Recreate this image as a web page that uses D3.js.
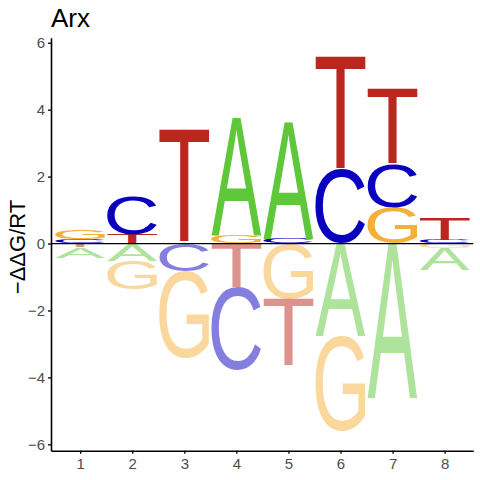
<!DOCTYPE html>
<html>
<head>
<meta charset="utf-8">
<script src="https://cdn.jsdelivr.net/npm/d3@7"></script>
<style>
body { margin: 0; background: #fff; }
</style>
</head>
<body>
<svg width="480" height="480"></svg>
<script>
// positions along the motif
var positions = [1, 2, 3, 4, 5, 6, 7, 8];
var letters = ["A", "C", "G", "T"];

// -ddG/RT contribution of each base at each position
var valA = [-0.31, -0.51, 0.03, 3.52, 3.50, -2.77, -4.62, -0.64];
var valC = [0.13, 1.13, -0.84, -2.46, 0.14, 2.22, 1.31, 0.10];
var valG = [0.27, -0.87, -2.58, 0.25, -1.66, -2.83, 1.06, -0.14];
var valT = [-0.11, 0.26, 3.38, -1.33, -2.01, 3.36, 2.24, 0.66];

var yTicks = [-6, -4, -2, 0, 2, 4, 6];

var colors = { A: "#5ec83a", C: "#0a00bf", G: "#f5b03a", T: "#b9271e" };
var fontFam = "'Liberation Sans', Arial, sans-serif";

var svg = d3.select("svg");

var x = d3.scaleLinear().domain([0.44, 8.55]).range([51, 473.3]);
var y = d3.scaleLinear().domain([-6.19, 6.15]).range([450.7, 37.7]);

// tight glyph bounds, measured once on a canvas
var ctx = document.createElement("canvas").getContext("2d");
ctx.font = "100px " + fontFam;
var glyph = {};
letters.forEach(function(l) {
  var m = ctx.measureText(l);
  glyph[l] = {
    left: m.actualBoundingBoxLeft,
    right: m.actualBoundingBoxRight,
    asc: m.actualBoundingBoxAscent,
    desc: m.actualBoundingBoxDescent
  };
});

// build the stacked boxes: smallest magnitude nearest the zero line
var vals = { A: valA, C: valC, G: valG, T: valT };
var boxes = [];
positions.forEach(function(p, i) {
  var items = letters.map(function(l) { return { letter: l, v: vals[l][i] }; });
  var pos = items.filter(function(d) { return d.v > 0; })
    .sort(function(a, b) { return a.v - b.v; });
  var neg = items.filter(function(d) { return d.v < 0; })
    .sort(function(a, b) { return b.v - a.v; });
  var base = 0;
  pos.forEach(function(d) {
    boxes.push({ letter: d.letter, p: p, y0: base, y1: base + d.v, neg: false });
    base += d.v;
  });
  base = 0;
  neg.forEach(function(d) {
    boxes.push({ letter: d.letter, p: p, y0: base + d.v, y1: base, neg: true });
    base += d.v;
  });
});

var halfW = 0.48;

svg.append("g").selectAll("text")
  .data(boxes)
  .enter()
  .append("text")
  .text(function(d) { return d.letter; })
  .attr("font-family", fontFam)
  .attr("font-size", 100)
  .attr("fill", function(d) { return colors[d.letter]; })
  .attr("fill-opacity", function(d) { return d.neg ? 0.5 : 1; })
  .attr("transform", function(d) {
    var g = glyph[d.letter];
    var X0 = x(d.p - halfW), X1 = x(d.p + halfW);
    var Y0 = y(d.y1), Y1 = y(d.y0);
    var sx = (X1 - X0) / (g.left + g.right);
    var sy = (Y1 - Y0) / (g.asc + g.desc);
    return "translate(" + X0 + "," + Y0 + ") scale(" + sx + "," + sy + ") translate(" + g.left + "," + g.asc + ")";
  });

// zero line
svg.append("line")
  .attr("x1", x.range()[0]).attr("x2", x.range()[1])
  .attr("y1", y(0)).attr("y2", y(0))
  .attr("stroke", "#000").attr("stroke-width", 1.2);

// axes
var yAxis = svg.append("g")
  .attr("transform", "translate(" + x.range()[0] + ",0)")
  .call(d3.axisLeft(y).tickValues(yTicks).tickSize(3).tickSizeOuter(0).tickPadding(3));

var xAxis = svg.append("g")
  .attr("transform", "translate(0," + y.range()[0] + ")")
  .call(d3.axisBottom(x).tickValues(positions).tickSize(3).tickSizeOuter(0).tickPadding(5));

[yAxis, xAxis].forEach(function(a) {
  a.select(".domain").attr("stroke", "#000").attr("stroke-width", 1.6);
  a.selectAll(".tick line").attr("stroke", "#000").attr("stroke-width", 1.3);
  a.selectAll(".tick text")
    .attr("font-family", fontFam)
    .attr("font-size", 15)
    .attr("fill", "#4d4d4d");
});

// title and y label
svg.append("text")
  .attr("x", 51).attr("y", 27)
  .attr("font-family", fontFam)
  .attr("font-size", 26)
  .text("Arx");

svg.append("text")
  .attr("transform", "translate(25,247) rotate(-90)")
  .attr("text-anchor", "middle")
  .attr("font-family", fontFam)
  .attr("font-size", 22)
  .text("\u2212\u0394\u0394G/RT");
</script>
</body>
</html>
